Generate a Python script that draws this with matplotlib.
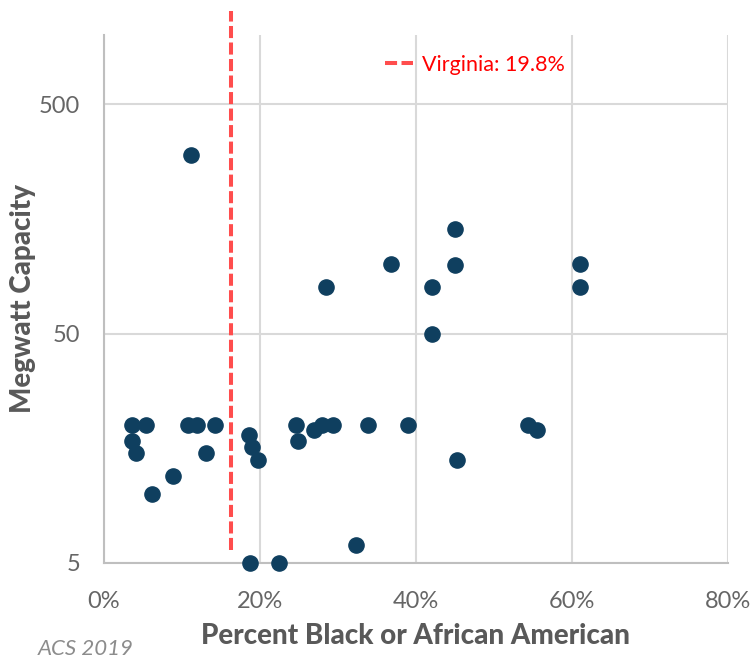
import matplotlib.pyplot as plt
from matplotlib.ticker import FixedLocator, NullLocator, PercentFormatter

# percent black or african american (x) vs megawatt capacity (y)
pct_black = [11.2, 45.0, 36.8, 45.0, 61.0, 28.5, 42.1, 61.0, 42.1,
             3.6, 5.4, 10.8, 11.9, 14.2, 24.6, 27.9, 29.4, 33.8, 39.0, 54.4,
             3.6, 4.1, 13.1, 8.8, 6.2,
             18.6, 19.0, 19.7, 24.9, 26.9, 55.5, 45.3,
             18.7, 22.4, 32.3]
megawatts = [300, 143, 100, 99, 100, 80, 80, 80, 50,
             20, 20, 20, 20, 20, 20, 20, 20, 20, 20, 20,
             17, 15, 15, 12, 10,
             18, 16, 14, 17, 19, 19, 14,
             5, 5, 6]

va_pct = 16.3
va_span = [5.7, 1270]
va_label = 'Virginia: 19.8%'

xticks = [0, 20, 40, 60, 80]
yticks = [5, 50, 500]

fig = plt.figure(figsize=(7.54, 6.6), dpi=100)
ax = fig.add_axes([0.1379, 0.147, 0.8276, 0.8])

grey = '#595959'
ax.grid(True, color='#d9d9d9', lw=1.5, zorder=0)
ax.set_axisbelow(True)

ax.scatter(pct_black, megawatts, s=120, color='#0f3f5f', zorder=3, clip_on=False)
ax.plot([va_pct, va_pct], va_span, color='#ff4d4d', lw=2.9,
        linestyle=(0, (3, 1.1)), clip_on=False, zorder=2, label=va_label)

ax.set_yscale('log')
ax.set_xlim(0, 80)
ax.set_ylim(5, 1000)
ax.yaxis.set_major_locator(FixedLocator(yticks))
ax.yaxis.set_minor_locator(NullLocator())
ax.set_yticklabels([str(v) for v in yticks])
ax.set_xticks(xticks)
ax.xaxis.set_major_formatter(PercentFormatter(decimals=0))

for s in ['top', 'right']:
    ax.spines[s].set_visible(False)
for s in ['left', 'bottom']:
    ax.spines[s].set_color('#bfbfbf')
    ax.spines[s].set_linewidth(1.5)

ax.tick_params(axis='both', length=0, labelsize=17, labelcolor='#666666')
ax.tick_params(axis='x', pad=20)
ax.tick_params(axis='y', pad=17)
for lab in ax.get_xticklabels() + ax.get_yticklabels():
    lab.set_family('Lato')

ax.set_xlabel('Percent Black or African American', fontsize=20, fontweight='black',
              color=grey, family='Lato', labelpad=8)
ax.set_ylabel('Megwatt Capacity', fontsize=20, fontweight='black',
              color=grey, family='Lato', labelpad=2)

leg = ax.legend(loc='center left', bbox_to_anchor=(0.485, 0.9015), bbox_transform=fig.transFigure,
                frameon=False, handlelength=1.3, handletextpad=0.4,
                prop={'family': 'Lato', 'size': 15.5})
for t in leg.get_texts():
    t.set_color('#ff0000')

fig.text(0.05, 0.008, 'ACS 2019', fontsize=16, style='italic', color='#8c8c8c',
         family='Lato')

fig.savefig('out.png', dpi=100)
